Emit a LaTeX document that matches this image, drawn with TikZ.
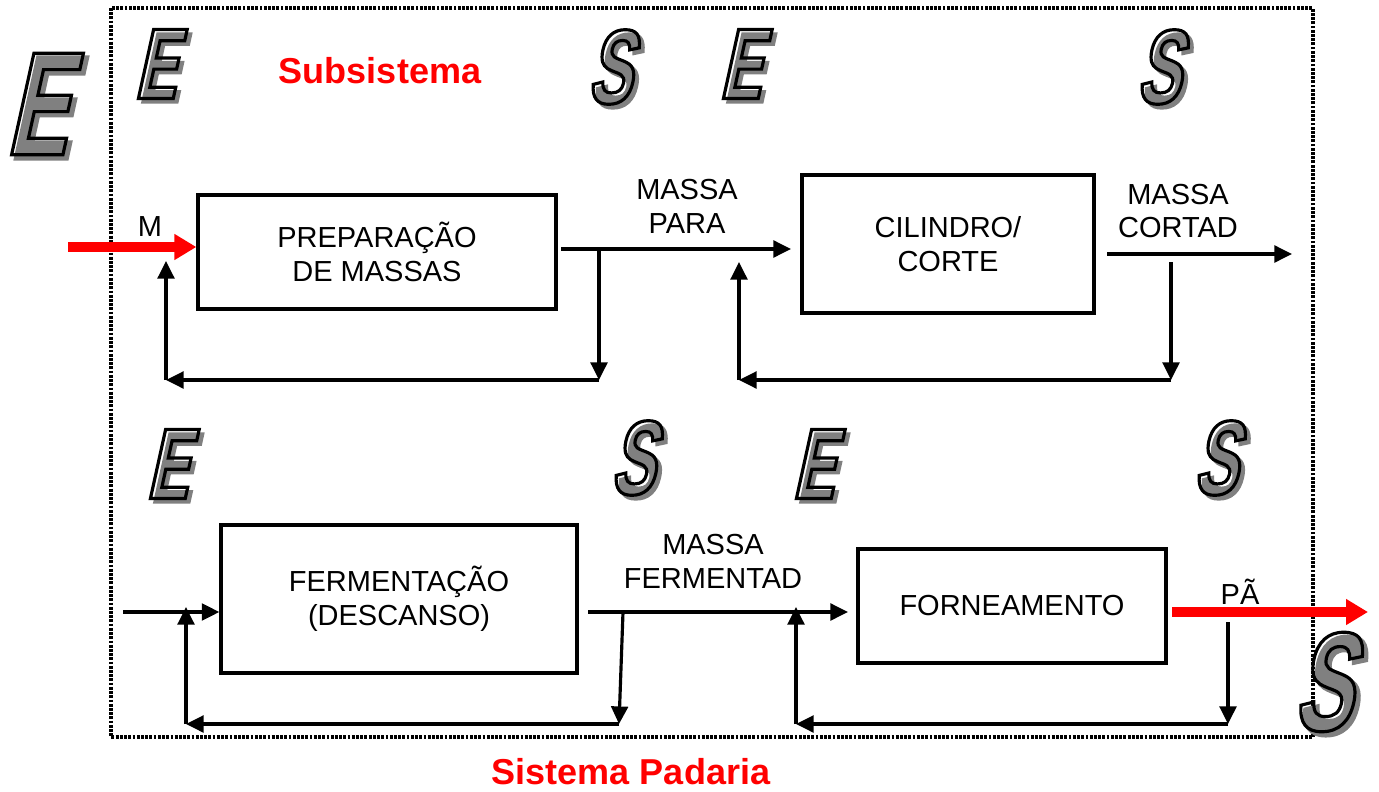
\documentclass[tikz,border=0pt]{standalone}
\usepackage{fontspec}
\setmainfont{Liberation Sans}
\newfontfamily\wordart[FakeSlant=0.22,FakeStretch=0.62]{Liberation Sans Bold}
\newfontfamily\wordartshade[FakeSlant=0.22,FakeStretch=0.62,FakeBold=2.5]{Liberation Sans Bold}
\usetikzlibrary{arrows.meta}

\begin{document}
\begin{tikzpicture}[x=0.02cm, y=-0.02cm,
        font=\fontsize{16.5}{19.3}\selectfont,
        >={Triangle[length=10pt,width=9.5pt]},
        box/.style={draw, line width=1.9pt, align=center, inner sep=0pt},
        lbl/.style={align=center, inner sep=0pt},
        flow/.style={line width=1.8pt, ->},
        redflow/.style={line width=5.7pt, red, -{Triangle[length=12.5pt,width=14pt]}},
        frame/.style={line width=1.8pt, dash pattern=on 1.6pt off 0.8pt},
        title/.style={red, inner sep=0pt, font=\fontsize{20.5}{24}\selectfont\bfseries},
        wletter/.style={inner sep=0pt, font=\wordart\fontsize{#1}{#1}\selectfont},
        shade/.style={text=black!50, font=\wordartshade\fontsize{#1}{#1}\selectfont, inner sep=0pt},
        face/.style={text=black,
            execute at begin node={\special{pdf:literal direct 1 Tr 1.8 w}},
            execute at end node={\special{pdf:literal direct 0 Tr}}}]
    \useasboundingbox (0,0) rectangle (1379,791);
    \draw[frame] (111,8) rectangle (1313,737);

    \node[shade=84] (eBigSh) at (40,108) {E};
    \node[wletter=84, face] (eBig) at (36,104) {E};
    \node[shade=57] (eAsh) at (159,68) {E};
    \node[wletter=57, face] (eA) at (155,64) {E};
    \node[shade=60] (sAsh) at (613,71) {S};
    \node[wletter=60, face] (sA) at (609,67) {S};
    \node[shade=57] (eBsh) at (744,68) {E};
    \node[wletter=57, face] (eB) at (740,64) {E};
    \node[shade=60] (sBsh) at (1162,71) {S};
    \node[wletter=60, face] (sB) at (1158,67) {S};
    \node[shade=57] (eCsh) at (171,468) {E};
    \node[wletter=57, face] (eC) at (167,464) {E};
    \node[shade=60] (sCsh) at (636,462) {S};
    \node[wletter=60, face] (sC) at (632,458) {S};
    \node[shade=57] (eDsh) at (817,468) {E};
    \node[wletter=57, face] (eD) at (813,464) {E};
    \node[shade=60] (sDsh) at (1219,462) {S};
    \node[wletter=60, face] (sD) at (1215,458) {S};
    \node[shade=80] (sBigSh) at (1326,686) {S};
    \node[wletter=80, face] (sBig) at (1322,682) {S};

    \node[title] (sub) at (380,71) {Subsistema};
    \node[title] (sist) at (631,772) {Sistema Padaria};

    \node[box, minimum width=7.16cm, minimum height=2.28cm] (prep) at (377,252) {PREPARAÇÃO\\DE MASSAS};
    \node[box, minimum width=5.84cm, minimum height=2.76cm] (cil) at (948,244) {CILINDRO/\\CORTE};
    \node[box, minimum width=7.12cm, minimum height=2.96cm] (ferm) at (399,599) {FERMENTAÇÃO\\(DESCANSO)};
    \node[box, minimum width=6.16cm, minimum height=2.28cm] (forn) at (1012,606) {FORNEAMENTO};

    \node[lbl] (lM) at (150,227) {M};
    \node[lbl] (lPara) at (687,206) {MASSA\\PARA};
    \node[lbl] (lCort) at (1178,211) {MASSA\\CORTAD};
    \node[lbl] (lFerm) at (713,561) {MASSA\\FERMENTAD};
    \node[lbl] (lPa) at (1240,592) {PÃ};

    \coordinate (mIn) at (68,247);
    \coordinate (p1) at (561,249);
    \coordinate (t1) at (791,249);
    \coordinate (d1) at (599,249);
    \coordinate (d1b) at (599,380);
    \coordinate (u1) at (166,380);
    \coordinate (u1t) at (166,261);
    \coordinate (p2) at (1107,254);
    \coordinate (t2) at (1292,254);
    \coordinate (d2) at (1171,262);
    \coordinate (d2b) at (1171,380);
    \coordinate (u2) at (739,380);
    \coordinate (u2t) at (739,262);
    \coordinate (in3) at (123,612);
    \coordinate (p3) at (588,612);
    \coordinate (t3) at (848,612);
    \coordinate (d3) at (623,612);
    \coordinate (d3b) at (619,724);
    \coordinate (u3) at (186,724);
    \coordinate (u3t) at (186,607);
    \coordinate (p4) at (1172,612);
    \coordinate (t4) at (1368,612);
    \coordinate (d4) at (1228,622);
    \coordinate (d4b) at (1228,724);
    \coordinate (u4) at (796,724);
    \coordinate (u4t) at (796,607);

    \draw[redflow] (mIn) -- (mIn -| prep.west);
    \draw[flow] (p1) -- (t1);
    \draw[flow] (d1) -- (d1b);
    \draw[flow] (d1b) -- (u1);
    \draw[flow] (u1) -- (u1t);
    \draw[flow] (p2) -- (t2);
    \draw[flow] (d2) -- (d2b);
    \draw[flow] (d2b) -- (u2);
    \draw[flow] (u2) -- (u2t);

    \draw[flow] (in3) -- (in3 -| ferm.west);
    \draw[flow] (p3) -- (t3);
    \draw[flow] (d3) -- (d3b);
    \draw[flow] (d3b) -- (u3);
    \draw[flow] (u3) -- (u3t);
    \draw[redflow] (p4) -- (t4);
    \draw[flow] (d4) -- (d4b);
    \draw[flow] (d4b) -- (u4);
    \draw[flow] (u4) -- (u4t);
\end{tikzpicture}
\end{document}
